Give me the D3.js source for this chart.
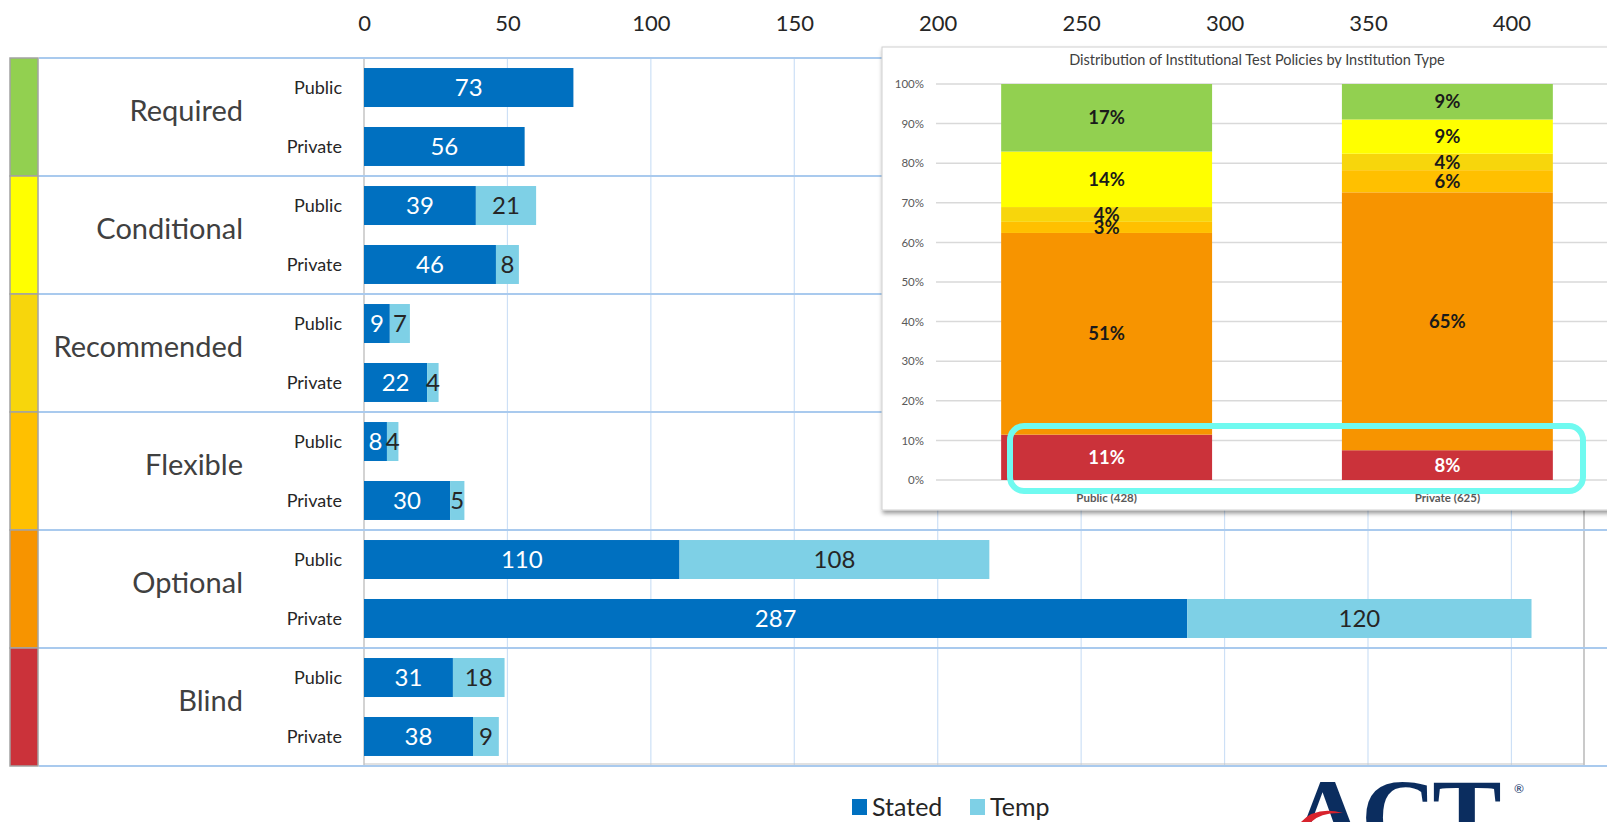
<!DOCTYPE html>
<html><head><meta charset="utf-8">
<script src="https://cdn.jsdelivr.net/npm/d3@7"></script>
<style>
html,body{margin:0;padding:0;background:#fff;overflow:hidden}
svg{display:block;font-family:Lato,"Open Sans",sans-serif}
</style></head><body>
<svg id="chart" width="1607" height="822"></svg>
<script>
// ---- data ----
const categories = ["Required", "Conditional", "Recommended", "Flexible", "Optional", "Blind"];
const types = ["Public", "Private"];
const statedPublic  = [73, 39, 9, 8, 110, 31];
const tempPublic    = [0, 21, 7, 4, 108, 18];
const statedPrivate = [56, 46, 22, 30, 287, 38];
const tempPrivate   = [0, 8, 4, 5, 120, 9];
const categoryColors = ["#92d050", "#ffff00", "#f7d60c", "#ffc000", "#f79400", "#cb323a"];
const seriesNames = ["Stated", "Temp"];
const seriesColors = ["#0070c0", "#7ed0e6"];
const xTicks = [0, 50, 100, 150, 200, 250, 300, 350, 400];
const insetTitle = "Distribution of Institutional Test Policies by Institution Type";
const insetGroups = ["Public (428)", "Private (625)"];
const insetTicks = [0, 0.1, 0.2, 0.3, 0.4, 0.5, 0.6, 0.7, 0.8, 0.9, 1];

// ---- setup ----
const svg = d3.select("#chart");
const FONT = "Lato, 'Open Sans', sans-serif";
const x = d3.scaleLinear().domain([0, 425.3]).range([364, 1584]);
const yCat = d3.scaleBand().domain(categories).range([58, 766]);
const ySub = d3.scaleBand().domain(types).range([0, yCat.bandwidth()]).paddingInner(0.339).paddingOuter(0.17);

const defs = svg.append("defs");
const f = defs.append("filter").attr("id", "shadow").attr("x", "-5%").attr("y", "-5%").attr("width", "115%").attr("height", "115%");
f.append("feDropShadow").attr("dx", 1).attr("dy", 3).attr("stdDeviation", 2.2).attr("flood-color", "#000").attr("flood-opacity", 0.4);

// gridlines
svg.append("g").selectAll("line").data(xTicks.filter(v => v > 0)).join("line")
  .attr("x1", d => x(d)).attr("x2", d => x(d)).attr("y1", 58).attr("y2", 766)
  .attr("stroke", "#cde0f6").attr("stroke-width", 1.2);

// plot borders
svg.append("line").attr("x1", x(0)).attr("x2", x(0)).attr("y1", 58).attr("y2", 766).attr("stroke", "#c4c4c4").attr("stroke-width", 1.5);
svg.append("line").attr("x1", x.range()[1]).attr("x2", x.range()[1]).attr("y1", 58).attr("y2", 765).attr("stroke", "#b8b8b8").attr("stroke-width", 1.5);
svg.append("line").attr("x1", x(0)).attr("x2", x.range()[1]).attr("y1", 764).attr("y2", 764).attr("stroke", "#c4c4c4").attr("stroke-width", 1.2);

// band separators
const seps = categories.map(c => yCat(c)).concat([yCat.range()[1]]);
svg.append("g").selectAll("line").data(seps).join("line")
  .attr("x1", 39).attr("x2", 1607).attr("y1", d => d).attr("y2", d => d)
  .attr("stroke", "#a9caee").attr("stroke-width", 2);

// left colour strip
svg.append("g").selectAll("rect").data(categories).join("rect")
  .attr("x", 10).attr("width", 28).attr("y", d => yCat(d)).attr("height", yCat.bandwidth())
  .attr("fill", (d, i) => categoryColors[i]).attr("stroke", "#a3a3a3").attr("stroke-width", 1.5);

// top axis
const ax = svg.append("g").attr("transform", "translate(0,31)")
  .call(d3.axisTop(x).tickValues(xTicks).tickSize(0).tickPadding(0));
ax.select(".domain").remove();
ax.selectAll("text").attr("font-size", 22).attr("fill", "#262626").attr("font-family", FONT);

// rows
const rows = categories.flatMap((c, i) => [
  {cat: c, type: "Public", stated: statedPublic[i], temp: tempPublic[i]},
  {cat: c, type: "Private", stated: statedPrivate[i], temp: tempPrivate[i]}
]);
const rowY = d => yCat(d.cat) + ySub(d.type);
const bw = ySub.bandwidth();

const bars = svg.append("g");
bars.selectAll("rect.stated").data(rows).join("rect").attr("class", "stated")
  .attr("x", x(0)).attr("y", rowY).attr("height", bw)
  .attr("width", d => x(d.stated) - x(0)).attr("fill", seriesColors[0]);
bars.selectAll("rect.temp").data(rows.filter(d => d.temp > 0)).join("rect").attr("class", "temp")
  .attr("x", d => x(d.stated)).attr("y", rowY).attr("height", bw)
  .attr("width", d => x(d.stated + d.temp) - x(d.stated)).attr("fill", seriesColors[1]);
bars.selectAll("text.sl").data(rows).join("text").attr("class", "sl")
  .attr("x", d => x(d.stated / 2)).attr("y", d => rowY(d) + bw / 2).attr("dy", "0.36em")
  .attr("text-anchor", "middle").attr("font-size", 24).attr("fill", "#fff").text(d => d.stated);
bars.selectAll("text.tl").data(rows.filter(d => d.temp > 0)).join("text").attr("class", "tl")
  .attr("x", d => x(d.stated + d.temp / 2)).attr("y", d => rowY(d) + bw / 2).attr("dy", "0.36em")
  .attr("text-anchor", "middle").attr("font-size", 24).attr("fill", "#262626").text(d => d.temp);

// category labels
svg.append("g").selectAll("text").data(categories).join("text")
  .attr("x", 243).attr("y", d => yCat(d) + yCat.bandwidth() / 2 + 3.5)
  .attr("text-anchor", "end").attr("font-size", 29).attr("fill", "#404040").text(d => d);
// type labels
svg.append("g").selectAll("text").data(rows).join("text")
  .attr("x", 342).attr("y", d => rowY(d) + bw / 2).attr("dy", "0.36em")
  .attr("text-anchor", "end").attr("font-size", 18).attr("fill", "#262626").text(d => d.type);

// legend
const lg = svg.append("g").selectAll("g").data(seriesNames).join("g")
  .attr("transform", (d, i) => `translate(${[852, 970][i]},799)`);
lg.append("rect").attr("width", 15).attr("height", 16).attr("fill", (d, i) => seriesColors[i]);
lg.append("text").attr("x", 20).attr("y", 8).attr("dy", "0.36em").attr("font-size", 25).attr("fill", "#262626").text(d => d);

// ---- inset ----
const inset = svg.append("g");
inset.append("rect").attr("x", 882).attr("y", 47).attr("width", 760).attr("height", 463)
  .attr("fill", "#fff").attr("stroke", "#cfcfcf").attr("filter", "url(#shadow)");
inset.append("text").attr("x", 1257).attr("y", 65).attr("text-anchor", "middle")
  .attr("font-size", 14.5).attr("fill", "#404040").text(insetTitle);

const yIn = d3.scaleLinear().domain([0, 1]).range([480, 84]);
const xIn = d3.scaleBand().domain(insetGroups).range([933, 1621]).paddingInner(0.381).paddingOuter(0.2);

inset.append("g").selectAll("line").data(insetTicks).join("line")
  .attr("x1", 936).attr("x2", 1607).attr("y1", d => yIn(d)).attr("y2", d => yIn(d))
  .attr("stroke", "#d9d9d9").attr("stroke-width", 1.5);
const yax = inset.append("g").attr("transform", "translate(924,0)")
  .call(d3.axisLeft(yIn).tickValues(insetTicks).tickFormat(d3.format(".0%")).tickSize(0).tickPadding(0));
yax.select(".domain").remove();
yax.selectAll("text").attr("font-size", 11.5).attr("fill", "#595959").attr("font-family", FONT);

const insetData = insetGroups.map((g, gi) => {
  const o = {group: g};
  categories.forEach((c, i) => {
    o[c] = gi === 0 ? statedPublic[i] + tempPublic[i] : statedPrivate[i] + tempPrivate[i];
  });
  return o;
});
const stackKeys = categories.slice().reverse();
const series = d3.stack().keys(stackKeys).offset(d3.stackOffsetExpand)(insetData);
const colorOf = d3.scaleOrdinal().domain(categories).range(categoryColors);
const sg = inset.append("g").selectAll("g").data(series).join("g").attr("fill", s => colorOf(s.key));
sg.selectAll("rect").data(s => s).join("rect")
  .attr("x", d => xIn(d.data.group)).attr("width", xIn.bandwidth())
  .attr("y", d => yIn(d[1])).attr("height", d => yIn(d[0]) - yIn(d[1]));
const pct = d3.format(".0%");
const lab = inset.append("g");
series.forEach(s => {
  s.forEach(d => {
    lab.append("text")
      .attr("x", xIn(d.data.group) + xIn.bandwidth() / 2)
      .attr("y", yIn((d[0] + d[1]) / 2)).attr("dy", "0.36em")
      .attr("text-anchor", "middle").attr("font-size", 18.5).attr("font-weight", 700)
      .attr("fill", s.key === "Blind" ? "#fff" : "#1a1a1a").text(pct(d[1] - d[0]));
  });
});
inset.append("g").selectAll("text").data(insetGroups).join("text")
  .attr("x", d => xIn(d) + xIn.bandwidth() / 2).attr("y", 502).attr("text-anchor", "middle")
  .attr("font-size", 11.5).attr("font-weight", 700).attr("fill", "#595959").text(d => d);

// highlight
inset.append("rect").attr("x", 1010).attr("y", 426).attr("width", 573).attr("height", 65)
  .attr("rx", 14).attr("fill", "none").attr("stroke", "#70faf0").attr("stroke-width", 6);

// ---- logo ----
const logo = svg.append("g");
logo.append("text").attr("x", 1290).attr("y", 851).attr("font-family", "'Liberation Serif', serif")
  .attr("font-weight", 700).attr("font-size", 104).attr("letter-spacing", -4).attr("fill", "#0b2d5f").text("ACT");
logo.append("text").attr("x", 1514).attr("y", 793).attr("font-size", 12).attr("fill", "#0b2d5f").text("®");
logo.append("path").attr("d", "M1301,822 Q1316,806 1343,813 Q1321,812 1311,822 Z").attr("fill", "#d8232d");
</script>
</body></html>
